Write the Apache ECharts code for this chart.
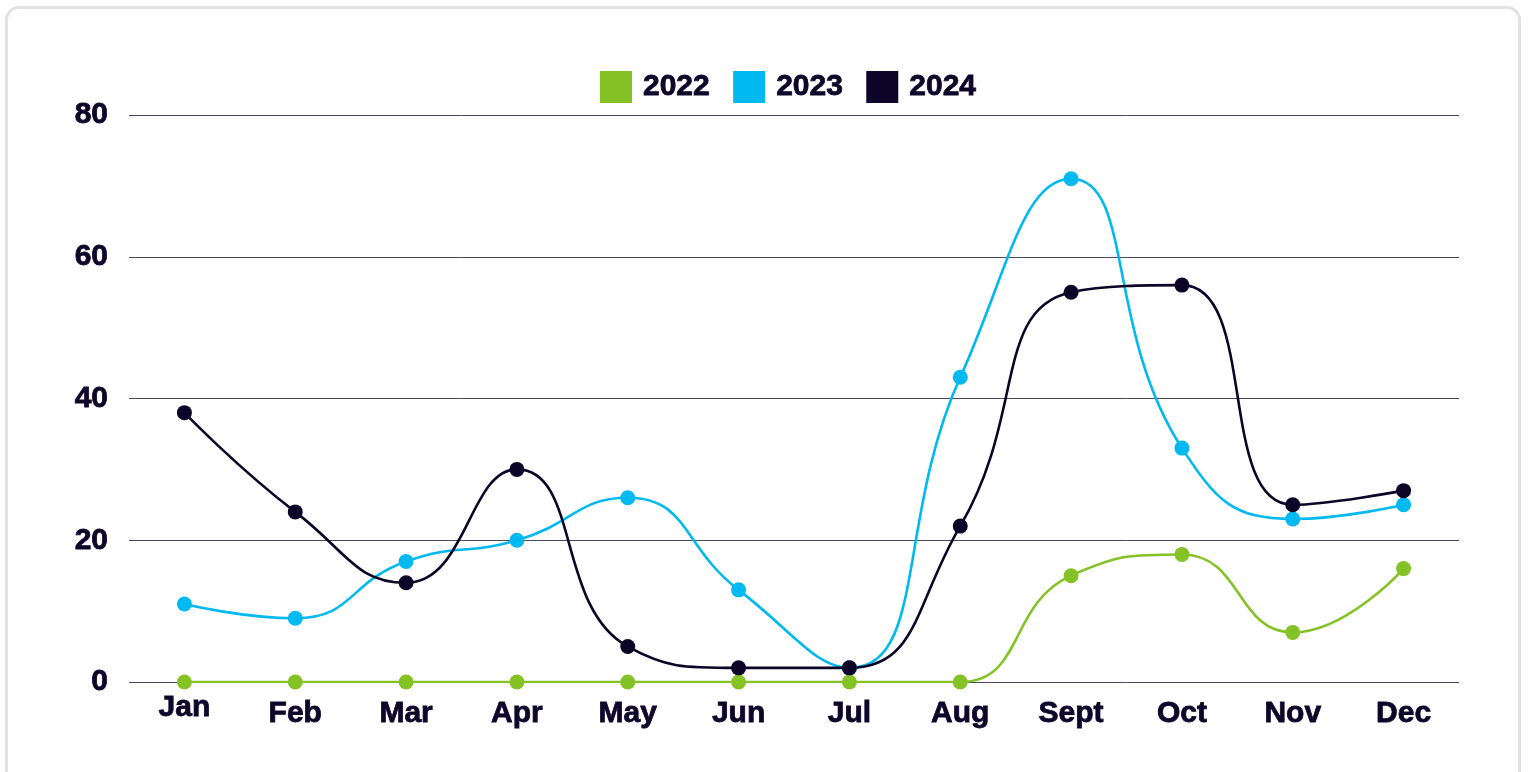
<!DOCTYPE html>
<html><head><meta charset="utf-8">
<script src="https://cdn.jsdelivr.net/npm/echarts@6/dist/echarts.min.js"></script>
<style>
html,body{margin:0;padding:0;background:#fff;width:1532px;height:772px;overflow:hidden;}
#card{position:absolute;left:5px;top:6px;width:1516px;height:800px;border:3px solid #e2e2e2;border-radius:14px;box-sizing:border-box;}
#chart{position:absolute;left:0;top:0;width:1532px;height:772px;}
</style></head>
<body>
<div id="card"></div>
<div id="chart"></div>
<script>
const months = ['Jan','Feb','Mar','Apr','May','Jun','Jul','Aug','Sept','Oct','Nov','Dec'];
const s2022 = [0,0,0,0,0,0,0,0,15,18,7,16];
const s2023 = [11,9,17,20,26,13,2,43,71,33,23,25];
const s2024 = [38,24,14,30,5,2,2,22,55,56,25,27];
const yTicks = [0,20,40,60,80];

const textColor = '#0e0629';
const font = '"Liberation Sans", Arial, sans-serif';
const txt = {fontFamily:font, fontWeight:'bold', fontSize:30, color:textColor, textBorderColor:textColor, textBorderWidth:0.8};
const chart = echarts.init(document.getElementById('chart'));
function mk(name, data, color){
  return {name, type:'line', data, smooth:0.5, symbol:'circle', symbolSize:15,
    lineStyle:{color, width:2.6}, itemStyle:{color}, z: 3};
}
chart.setOption({
  animation:false,
  legend:{top:66, left:595, itemWidth:32, itemHeight:32, itemGap:23, icon:'rect',
    textStyle:Object.assign({}, txt, {padding:[0,0,0,6]}),
    data:['2022','2023','2024']},
  grid:{left:129, right:73, top:115, bottom:90},
  xAxis:{type:'category', data:months, boundaryGap:true,
    axisLine:{show:false}, axisTick:{show:false},
    axisLabel:Object.assign({margin:11, interval:0}, txt, {
      formatter:v=> v==='Jan' ? '{j|'+v+'}' : '{a|'+v+'}',
      rich:{a:Object.assign({}, txt, {padding:[6,0,0,0]}),
            j:Object.assign({}, txt, {padding:[0,0,0,0]})}})},
  yAxis:{type:'value', min:yTicks[0], max:yTicks[yTicks.length-1], interval:20,
    axisLine:{show:false}, axisTick:{show:false},
    splitLine:{lineStyle:{color:'#4a4663', width:1}},
    axisLabel:Object.assign({margin:21}, txt)},
  series:[mk('2022', s2022, '#85c226'), mk('2023', s2023, '#00b9f1'), mk('2024', s2024, '#0d0528')]
});
</script>
</body></html>
